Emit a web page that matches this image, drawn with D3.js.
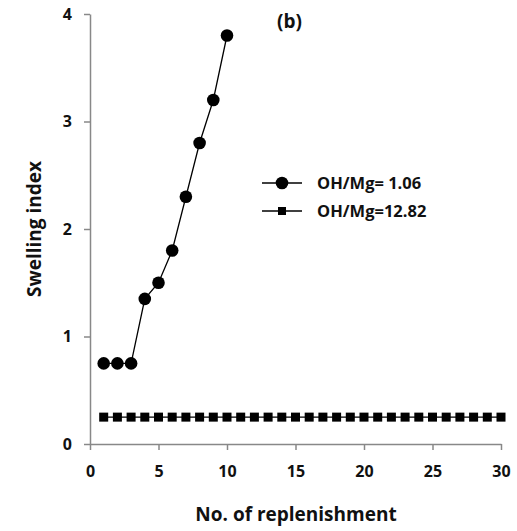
<!DOCTYPE html>
<html>
<head>
<meta charset="utf-8">
<script src="https://cdn.jsdelivr.net/npm/d3@7"></script>
<style>
  html, body { margin: 0; padding: 0; background: #fff; }
  svg text { font-family: "Open Sans", Lato, sans-serif; font-weight: 700; fill: #111; }
</style>
</head>
<body>
<div id="chart"></div>
<script>
(function () {
  'use strict';

  // Series: swelling index vs number of replenishment
  const lowRatioX = [1, 2, 3, 4, 5, 6, 7, 8, 9, 10];
  const lowRatioY = [0.75, 0.75, 0.75, 1.35, 1.5, 1.8, 2.3, 2.8, 3.2, 3.8];
  const highRatioX = d3.range(1, 31);
  const highRatioY = highRatioX.map(() => 0.25);
  const seriesNames = ['OH/Mg= 1.06', 'OH/Mg=12.82'];
  const xTicks = [0, 5, 10, 15, 20, 25, 30];
  const yTicks = [0, 1, 2, 3, 4];

  const W = 517, H = 531;
  const margin = { top: 14, right: 16, bottom: 87, left: 90 };

  const svg = d3.select('#chart').append('svg')
    .attr('width', W).attr('height', H);

  const x = d3.scaleLinear().domain([0, 30]).range([margin.left, W - margin.right]);
  const y = d3.scaleLinear().domain([0, 4]).range([H - margin.bottom, margin.top]);

  // Axes
  const xAxis = svg.append('g')
    .attr('transform', `translate(0,${y(0)})`)
    .call(d3.axisBottom(x).tickValues(xTicks).tickFormat(d3.format('d'))
      .tickSize(6).tickPadding(16).tickSizeOuter(0));
  const yAxis = svg.append('g')
    .attr('transform', `translate(${x(0)},0)`)
    .call(d3.axisLeft(y).tickValues(yTicks).tickFormat(d3.format('d'))
      .tickSize(6).tickPadding(12).tickSizeOuter(0));
  [xAxis, yAxis].forEach(a => {
    a.select('.domain').attr('stroke', '#888').attr('stroke-width', 1.5);
    a.selectAll('.tick line').attr('stroke', '#888').attr('stroke-width', 1.5);
    a.selectAll('.tick text').attr('font-size', 16).attr('fill', '#111');
  });

  const line = d3.line().x(d => x(d[0])).y(d => y(d[1]));
  const lowData = lowRatioX.map((v, i) => [v, lowRatioY[i]]);
  const highData = highRatioX.map((v, i) => [v, highRatioY[i]]);

  // High ratio series (squares)
  svg.append('path').datum(highData)
    .attr('d', line).attr('fill', 'none').attr('stroke', '#000').attr('stroke-width', 1.3);
  svg.selectAll('.sq').data(highData).enter().append('rect')
    .attr('x', d => x(d[0]) - 4.5).attr('y', d => y(d[1]) - 4.5)
    .attr('width', 9).attr('height', 9).attr('fill', '#000');

  // Low ratio series (circles)
  svg.append('path').datum(lowData)
    .attr('d', line).attr('fill', 'none').attr('stroke', '#000').attr('stroke-width', 1.3);
  svg.selectAll('.dot').data(lowData).enter().append('circle')
    .attr('cx', d => x(d[0])).attr('cy', d => y(d[1])).attr('r', 6.3).attr('fill', '#000');

  // Legend
  const lg = svg.append('g').attr('transform', 'translate(262,183)');
  seriesNames.forEach((name, i) => {
    const row = lg.append('g').attr('transform', `translate(0,${i * 28})`);
    row.append('line').attr('x1', 0).attr('x2', 40).attr('y1', 0).attr('y2', 0)
      .attr('stroke', '#000').attr('stroke-width', 1.3);
    if (i === 0) row.append('circle').attr('cx', 20).attr('cy', 0).attr('r', 6.3).attr('fill', '#000');
    else row.append('rect').attr('x', 16).attr('y', -4).attr('width', 8).attr('height', 8).attr('fill', '#000');
    row.append('text').attr('x', 55).attr('y', 6).attr('font-size', 16.5).text(name);
  });

  // Titles
  svg.append('text').attr('x', 277).attr('y', 28)
    .attr('font-size', 19).text('(b)');
  svg.append('text').attr('transform', `translate(41,${y(2)}) rotate(-90)`)
    .attr('text-anchor', 'middle').attr('font-size', 19).text('Swelling index');
  svg.append('text').attr('x', 296).attr('y', 521).attr('text-anchor', 'middle')
    .attr('font-size', 19).text('No. of replenishment');
})();
</script>
</body>
</html>
